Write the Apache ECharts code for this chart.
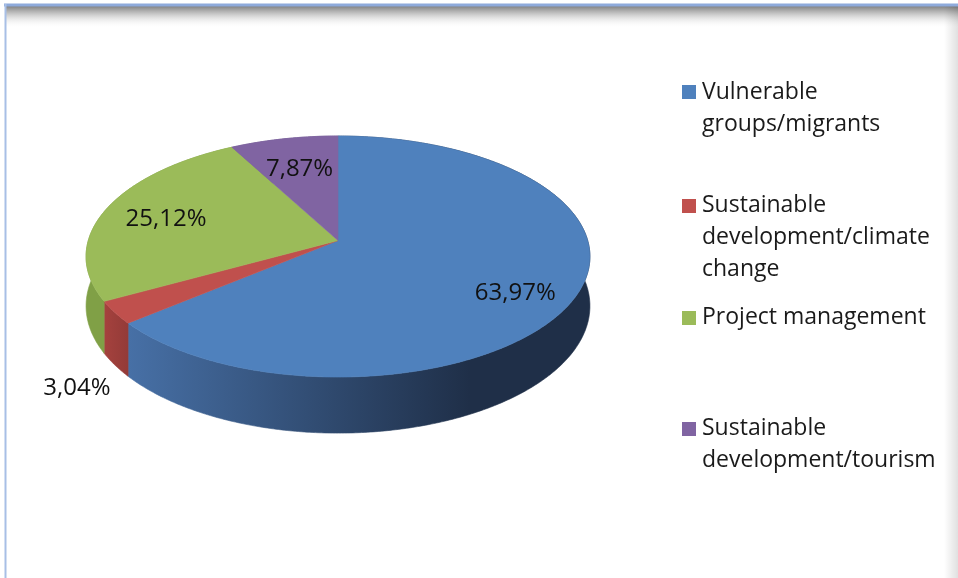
<!DOCTYPE html>
<html><head><meta charset="utf-8">
<script src="https://cdn.jsdelivr.net/npm/echarts@6/dist/echarts.min.js"></script>
<style>html,body{margin:0;padding:0;background:#fff}#c{width:958px;height:578px}</style>
</head><body><div id="c"></div>
<script>
// ---- data ----
const categories = ['Vulnerable groups/migrants', 'Sustainable development/climate change', 'Project management', 'Sustainable development/tourism'];
const legendLines = [['Vulnerable', 'groups/migrants'], ['Sustainable', 'development/climate', 'change'], ['Project management'], ['Sustainable', 'development/tourism']];
const values = [63.97, 3.04, 25.12, 7.87];

// ---- styles / layout ----
const topColors = ['#4f81bd', '#c0504d', '#9bbb59', '#8064a2'];
const sideColors = [
  {type: 'linear', x: 128, y: 0, x2: 470, y2: 0, global: true,
   colorStops: [{offset: 0, color: '#4770a6'}, {offset: 1, color: '#1f2f48'}]},
  {type: 'linear', x: 100, y: 0, x2: 130, y2: 0, global: true,
   colorStops: [{offset: 0, color: '#a8433f'}, {offset: 1, color: '#923a37'}]},
  '#80a046',
  '#6a5388'
];
const P = {cx: 338, cy: 240.5, A: 249.7, B: 118.4, p: 0.133, H: 48.6};
const labelR = [0.74, 1.17, 0.745, 0.71];
const labelDY = [13, 63, 3, 1];
const legendTextTop = [76, 189, 301, 412];
const legendBoxTop = [85, 199, 311, 422];
const FONT = '"Open Sans", "Noto Sans", sans-serif';

const total = values.reduce((a, b) => a + b, 0);
const starts = [];
{ let acc = 0; values.forEach(v => { starts.push(acc); acc += v; }); }

function proj(th, d) {
  const u = Math.sin(th), v = Math.cos(th), s = 1 / (1 + P.p * v);
  return [P.cx + P.A * u * s, P.cy - P.B * v * s + P.H * s * d];
}

function renderItem(params, api) {
  const i = params.dataIndex;
  const val = api.value(0);
  const t1 = starts[i] / total * 2 * Math.PI;
  const t2 = (starts[i] + val) / total * 2 * Math.PI;
  const n = Math.max(6, Math.ceil((t2 - t1) / 0.01));
  const topRim = [], botRim = [];
  for (let k = 0; k <= n; k++) {
    const t = t1 + (t2 - t1) * k / n;
    topRim.push(proj(t, 0));
    botRim.push(proj(t, 1));
  }
  const topPts = [[P.cx, P.cy]].concat(topRim);
  const sidePts = topRim.concat(botRim.slice().reverse());
  const mid = (t1 + t2) / 2;
  const u = Math.sin(mid), v = Math.cos(mid), s = 1 / (1 + P.p * v);
  const lx = P.cx + P.A * u * s * labelR[i];
  const ly = P.cy - P.B * v * s * labelR[i] + labelDY[i];
  return {
    type: 'group',
    children: [
      {type: 'polygon', shape: {points: sidePts}, z2: 1,
       style: {fill: sideColors[i], stroke: sideColors[i], lineWidth: 0.6}},
      {type: 'polygon', shape: {points: topPts}, z2: 10,
       style: {fill: topColors[i], stroke: topColors[i], lineWidth: 0.6}},
      {type: 'text', z2: 20,
       style: {text: val.toFixed(2).replace('.', ',') + '%', x: lx, y: ly,
               fill: '#111', fontSize: 24, fontFamily: FONT, align: 'center', verticalAlign: 'middle'}}
    ]
  };
}

const graphics = [
  {type: 'rect', silent: true, shape: {x: 5, y: 6, width: 953, height: 22},
   style: {fill: {type: 'linear', x: 0, y: 0, x2: 0, y2: 1,
     colorStops: [{offset: 0, color: 'rgba(120,120,120,0.95)'}, {offset: 0.35, color: 'rgba(150,150,150,0.55)'},
                  {offset: 1, color: 'rgba(255,255,255,0)'}]}}},
  {type: 'rect', silent: true, shape: {x: 944, y: 6, width: 14, height: 572},
   style: {fill: {type: 'linear', x: 0, y: 0, x2: 1, y2: 0,
     colorStops: [{offset: 0, color: 'rgba(0,0,0,0)'}, {offset: 1, color: 'rgba(0,0,0,0.12)'}]}}},
  {type: 'line', silent: true, shape: {x1: 4, y1: 5, x2: 958, y2: 5}, style: {stroke: '#8eaadb', lineWidth: 3}},
  {type: 'line', silent: true, shape: {x1: 5.5, y1: 4, x2: 5.5, y2: 578}, style: {stroke: '#a8bfe6', lineWidth: 2}}
];
categories.forEach((c, i) => {
  graphics.push({type: 'rect', silent: true, shape: {x: 682, y: legendBoxTop[i], width: 14, height: 14},
    style: {fill: topColors[i]}});
  graphics.push({type: 'text', silent: true, x: 702, y: legendTextTop[i],
    style: {text: legendLines[i].join('\n'), fill: '#1a1a1a', fontSize: 23, fontFamily: FONT,
            lineHeight: 32, align: 'left', verticalAlign: 'top'}});
});

const chart = echarts.init(document.getElementById('c'), null, {renderer: 'canvas'});
chart.setOption({
  animation: false,
  backgroundColor: '#fff',
  graphic: graphics,
  series: [{
    type: 'custom',
    name: 'Share',
    coordinateSystem: 'none',
    renderItem: renderItem,
    data: values.map((v, i) => ({name: categories[i], value: v}))
  }]
});
</script>
</body></html>
